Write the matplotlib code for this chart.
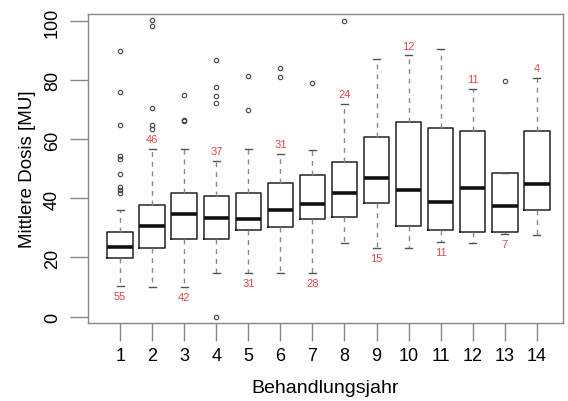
import numpy as np
import matplotlib
import matplotlib.pyplot as plt

matplotlib.use('Agg')
plt.rcParams['font.family'] = ['Liberation Sans', 'DejaVu Sans']

# summary stats, one entry per treatment year
years = [str(i) for i in range(1, 15)]
med = [23.5, 30.7, 34.7, 33.4, 33.0, 36.1, 38.1, 41.8, 46.8, 42.8, 38.7, 43.6, 37.4, 45.0]
q1 = [19.9, 23.2, 26.3, 26.3, 29.2, 30.3, 33.0, 33.6, 38.5, 30.8, 29.2, 28.6, 28.6, 36.2]
q3 = [28.7, 37.9, 41.8, 40.8, 41.8, 45.2, 48.1, 52.3, 60.8, 65.8, 63.8, 62.9, 48.5, 62.9]
whislo = [10.4, 9.9, 9.9, 14.8, 14.8, 14.8, 14.8, 24.9, 23.2, 23.2, 25.3, 24.9, 27.9, 27.6]
whishi = [36.2, 56.8, 56.8, 52.8, 56.8, 55.0, 56.5, 72.0, 87.3, 88.5, 90.8, 77.2, 48.5, 80.9]
fliers = [[90, 76, 65, 54.5, 53.4, 48.3, 44, 43, 42],
          [100.4, 98.6, 70.7, 64.9, 63.6],
          [75, 66.7, 66.2],
          [86.8, 77.6, 74.7, 72.5, 0],
          [81.4, 70],
          [84.1, 81.3],
          [79],
          [100],
          [], [], [], [],
          [79.9],
          []]
counts = [55, 46, 42, 37, 31, 31, 28, 24, 15, 12, 11, 11, 7, 4]

stats = []
for i in range(len(years)):
    stats.append(dict(label=years[i], med=med[i], q1=q1[i], q3=q3[i],
                      whislo=whislo[i], whishi=whishi[i], fliers=fliers[i]))

fig = plt.figure(figsize=(5.68, 4.02), dpi=100)
ax = fig.add_axes([88 / 568, 1 - 324 / 402, 475 / 568, 309 / 402])

pos = np.arange(1, len(years) + 1)
ax.bxp(stats, positions=pos, widths=0.8, capwidths=0.22,
       boxprops=dict(color='#222222', lw=1.1),
       medianprops=dict(color='#111111', lw=2.6),
       whiskerprops=dict(color='#888888', lw=1.0, ls=(0, (3.5, 3.5))),
       capprops=dict(color='#555555', lw=1.0),
       flierprops=dict(marker='o', ms=3.2, mfc='none', mec='#444444', mew=0.8))

# sample sizes: below lower whisker for odd years, above upper whisker for even
for i in range(len(years)):
    if i % 2 == 0:
        ax.annotate(str(counts[i]), (pos[i], whislo[i]), xytext=(0, -7), textcoords='offset points',
                    ha='center', va='center', fontsize=8, color='#e04a4a')
    else:
        ax.annotate(str(counts[i]), (pos[i], whishi[i]), xytext=(0, 7), textcoords='offset points',
                    ha='center', va='center', fontsize=8, color='#e04a4a')

ax.set_xlim(-0.005, 14.82)
ax.set_ylim(-2.2, 102.5)
ax.set_yticks([0, 20, 40, 60, 80, 100])
ax.set_xticks(pos)
ax.set_xticklabels(years)
for s in ax.spines.values():
    s.set_color('#888888')
    s.set_linewidth(1.0)
ax.tick_params(axis='both', direction='out', length=13, width=1.0, color='#888888')
ax.tick_params(axis='x', labelsize=13, pad=4)
ax.tick_params(axis='y', labelsize=13, pad=6.5)
for t in ax.get_yticklabels():
    t.set_rotation(90)
    t.set_va('center')

ax.set_xlabel('Behandlungsjahr', fontsize=14)
ax.xaxis.set_label_coords(0.5, -0.21)
ax.xaxis.label.set_va('center')
ax.set_ylabel('Mittlere Dosis [MU]', fontsize=13.5)
ax.yaxis.set_label_coords(-0.128, 0.5)
ax.yaxis.label.set_va('center')

fig.savefig('out.png', dpi=100)
